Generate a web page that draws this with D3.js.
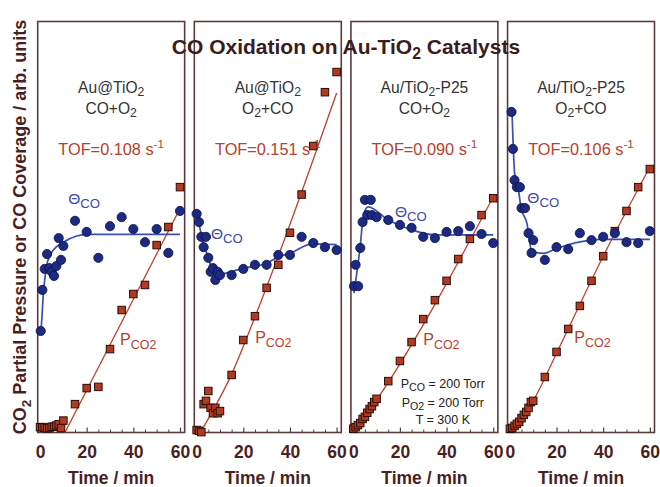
<!DOCTYPE html>
<html><head><meta charset="utf-8">
<script src="https://cdn.jsdelivr.net/npm/d3@7"></script>
<style>
html,body{margin:0;padding:0;background:#fff;}
svg{display:block;font-family:"Liberation Sans",Arial,Helvetica,sans-serif;}
</style></head>
<body>
<svg id="chart" width="660" height="487"></svg>
<script>
// ---------------- DATA ----------------
const catalysts = ["Au@TiO_{2}", "Au@TiO_{2}", "Au/TiO_{2}-P25", "Au/TiO_{2}-P25"];
const feeds = ["CO+O_{2}", "O_{2}+CO", "CO+O_{2}", "O_{2}+CO"];
const tofs = ["0.108", "0.151", "0.090", "0.106"];
const xTicks = [0, 20, 40, 60];
const xMinor = [5, 10, 15, 25, 30, 35, 45, 50, 55];

// CO coverage (theta_CO) points, [time min, arb. units]
const theta1 = [[0.3,24.7],[1,34.7],[2,39.8],[3,43.4],[4,40.0],[5,39.1],[6,38.1],[7,40.5],[8,47.3],[9,42.0],[10,45.4],[15,51.5],[20,48.8],[25,42.5],[30,50.2],[35,52.4],[40,49.5],[45,46.3],[50,49.5],[55,43.7],[60,53.9]];
const theta2 = [[0,53.2],[1,51.2],[2,47.6],[3,45.1],[4,47.6],[5,42.5],[6,39.1],[7,40.0],[8,37.1],[9,39.1],[10,38.3],[15,38.3],[20,39.8],[25,40.8],[30,40.8],[35,43.2],[40,43.2],[45,47.6],[50,46.1],[55,45.1],[60,44.4]];
const theta3 = [[0.3,35.6],[1,40.8],[2.1,35.6],[3,44.9],[4,51.2],[5,56.6],[6,52.9],[7.5,56.6],[8,52.9],[10,52.4],[15,51.7],[20,50.5],[25,49.8],[30,47.6],[35,47.3],[40,48.8],[45,49.0],[50,50.2],[55,48.3],[60,46.1]];
const theta4 = [[0.7,78.0],[1.3,69.0],[2,61.4],[3,59.7],[4.3,59.7],[5,54.6],[6.5,54.6],[8,48.5],[9.3,43.7],[10,46.8],[15,42.0],[20,45.1],[25,44.6],[30,48.5],[35,46.8],[40,47.6],[45,48.5],[50,46.3],[55,46.1],[60,49.0]];

// theta_CO fitted curves
const thetaFit1 = [[0.4,24.7],[0.8,27.9],[1.4,33.5],[2,37.1],[2.9,40.8],[4,42.7],[5.7,44.4],[10,46.3],[15.7,47.8],[20,48.2],[60,48.2]];
const thetaFit2 = [[0.3,53.2],[2.2,47.6],[3.2,45.6],[4.9,42.7],[6.5,40.0],[7.5,39.3],[10,38.3],[11,38.5],[20.4,40.0],[29.8,41.1],[35.4,42.8],[40,43.6],[49.6,45.9],[60,45.7]];
const thetaFit3 = [[0.3,33.9],[1.1,37.1],[2.0,40.8],[2.9,44.9],[4.0,51.2],[5.2,54.2],[6.4,54.9],[15,51.7],[25,49.3],[35,48.1],[60,48.1]];
const thetaFit4 = [[0.9,78.0],[1.5,68.7],[2.3,61.4],[3.7,59.0],[4.7,54.9],[7.3,50.9],[9.4,44.0],[14.4,43.6],[20.1,44.8],[30.1,46.4],[38.7,47.0],[60,47.0]];

// CO2 partial pressure points
const pco2_1 = [[0,1.3],[1,1.3],[2,1.2],[3,1.0],[4,1.1],[5,1.4],[6,1.4],[7,1.7],[8,2.0],[9,1.1],[10,2.9],[15,6.9],[20,10.8],[25,11.1],[30,20.3],[35,29.8],[40,33.7],[45,35.9],[50,45.6],[55,50.0],[60,59.7]];
const pco2_2 = [[0,0.6],[1,0.4],[2,0.1],[3,6.9],[4,7.7],[5,10.1],[6,6.0],[7,4.7],[8,6.0],[9,4.7],[10,5.2],[15,14.0],[20,22.5],[25,28.3],[30,35.2],[35,40.8],[40,48.6],[45,57.9],[50,69.7],[55,82.8],[60,87.7]];
const pco2_3 = [[0,0.9],[1,1.3],[2,1.8],[3,2.3],[4,3.3],[5,3.8],[6,4.8],[7,5.7],[8,6.4],[9,7.4],[10,8.2],[15,12.5],[20,17.4],[25,22.0],[30,27.6],[35,32.2],[40,36.9],[45,42.2],[50,47.1],[55,52.9],[60,57.0]];
const pco2_4 = [[0,0.9],[1,1.1],[2,1.6],[3,2.1],[4,2.6],[5,3.5],[6,4.3],[7,5.0],[8,6.0],[9,7.4],[10,7.7],[15,13.5],[20,19.6],[25,25.2],[30,30.8],[35,36.9],[40,42.9],[45,49.0],[50,53.9],[55,59.7],[60,64.1]];

// CO2 fitted lines
const pco2Fit1 = [[10.7,0],[60,54.5]];
const pco2Fit2 = [[2,0.4],[15,14.2],[25,28.1],[37,46.0],[60,82.6]];
const pco2Fit3 = [[0,0.4],[5,3.8],[10,7.9],[60,57.3]];
const pco2Fit4 = [[0,0.4],[5,3.3],[10,7.7],[20,19.3],[40,42.9],[60,64.6]];

const thetaPts = [theta1, theta2, theta3, theta4];
const thetaFits = [thetaFit1, thetaFit2, thetaFit3, thetaFit4];
const pco2Pts = [pco2_1, pco2_2, pco2_3, pco2_4];
const pco2Fits = [pco2Fit1, pco2Fit2, pco2Fit3, pco2Fit4];

// label anchors (data coordinates)
const thetaLabelPos = [[12.1,55.5],[6.1,47.0],[17.9,52.5],[7.5,55.8]];
const pLabelPos = [[34.3,21.3],[25.1,21.7],[30.0,21.3],[27.6,21.8]];
const conditions = ["P_{CO} = 200 Torr", "P_{O2} = 200 Torr", "T = 300 K"];

// ---------------- LAYOUT ----------------
const svg = d3.select("#chart");
const frameTop = 21.5, frameBottom = 432.5;
const frameColor = "#5a3c3c", labelColor = "#4a1f1f";
const blue = "#1c2a84", blueLine = "#3d4fb0", blueText = "#3a48aa";
const red = "#b03a22", redLine = "#c0412f", redText = "#b8402e";

const panelBand = d3.scaleBand().domain(d3.range(4)).range([37.7, 654.5]).paddingInner(0.0617);
const y = d3.scaleLinear().domain([0, 100]).range([frameBottom, frameTop]);

function rich(sel, str, fs, subScale, subShift) {
  subScale = subScale || 0.78;
  subShift = subShift || 0.25;
  const parts = str.split(/(_\{[^}]*\}|\^\{[^}]*\})/).filter(s => s.length);
  let shift = 0;
  parts.forEach(p => {
    let target = 0, content = p, size = fs;
    if (p.startsWith("_{")) { target = subShift * fs; content = p.slice(2, -1); size = fs * subScale; }
    else if (p.startsWith("^{")) { target = -0.42 * fs; content = p.slice(2, -1); size = fs * 0.72; }
    sel.append("tspan").attr("dy", target - shift).attr("font-size", size).text(content);
    shift = target;
  });
}

d3.range(4).forEach(i => {
  const L = panelBand(i), bw = panelBand.bandwidth();
  const x = d3.scaleLinear().domain([-1, 62]).range([L, L + bw]);
  const g = svg.append("g");

  g.append("rect").attr("x", L).attr("y", frameTop).attr("width", bw)
    .attr("height", frameBottom - frameTop).attr("fill", "none")
    .attr("stroke", frameColor).attr("stroke-width", 1.6);

  // axes
  const ax = g.append("g").attr("transform", `translate(0,${frameBottom})`)
    .call(d3.axisBottom(x).tickValues(xTicks).tickSize(-5).tickPadding(13).tickFormat(d3.format("d")));
  ax.select(".domain").remove();
  ax.selectAll(".tick line").attr("stroke", frameColor).attr("stroke-width", 1.2);
  ax.selectAll(".tick text").attr("fill", labelColor).attr("font-size", 17.5)
    .attr("font-weight", "bold").attr("font-family", "Liberation Sans, Arial, sans-serif");
  const axm = g.append("g").attr("transform", `translate(0,${frameBottom})`)
    .call(d3.axisBottom(x).tickValues(xMinor).tickSize(-3).tickFormat(""));
  axm.select(".domain").remove();
  axm.selectAll(".tick line").attr("stroke", frameColor).attr("stroke-width", 1);

  g.append("text").attr("x", L + bw / 2).attr("y", 484).attr("text-anchor", "middle")
    .attr("font-weight", "bold").attr("font-size", 17.5).attr("fill", labelColor).text("Time / min");

  // lines
  const line = d3.line().x(d => x(d[0])).y(d => y(d[1])).curve(d3.curveMonotoneX);
  g.append("path").datum(pco2Fits[i]).attr("d", line).attr("fill", "none")
    .attr("stroke", redLine).attr("stroke-width", 1.3);
  g.append("path").datum(thetaFits[i]).attr("d", line).attr("fill", "none")
    .attr("stroke", blueLine).attr("stroke-width", 1.7);

  // points
  const s = 7.5;
  g.selectAll("rect.sq").data(pco2Pts[i]).enter().append("rect").attr("class", "sq")
    .attr("x", d => x(d[0]) - s / 2).attr("y", d => y(d[1]) - s / 2)
    .attr("width", s).attr("height", s).attr("fill", red)
    .attr("stroke", "#2b0d08").attr("stroke-width", 1);
  g.selectAll("circle.pt").data(thetaPts[i]).enter().append("circle").attr("class", "pt")
    .attr("cx", d => x(d[0])).attr("cy", d => y(d[1])).attr("r", 4.6)
    .attr("fill", blue).attr("stroke", "#0b123f").attr("stroke-width", 0.8);

  // texts
  const cx = L + bw / 2;
  const t1 = g.append("text").attr("x", cx).attr("y", 93).attr("text-anchor", "middle")
    .attr("font-size", 15.6).attr("fill", "#333");
  rich(t1, catalysts[i], 15.6, 0.78, 0.2);
  const t2 = g.append("text").attr("x", cx).attr("y", 114).attr("text-anchor", "middle")
    .attr("font-size", 15.6).attr("fill", "#333");
  rich(t2, feeds[i], 15.6, 0.78, 0.2);
  const t3 = g.append("text").attr("x", cx).attr("y", 154.5).attr("text-anchor", "middle")
    .attr("font-size", 16.3).attr("fill", redText);
  rich(t3, "TOF=" + tofs[i] + " s^{-1}", 16.3);

  const th = g.append("text").attr("x", x(thetaLabelPos[i][0])).attr("y", y(thetaLabelPos[i][1]))
    .attr("font-size", 15.5).attr("fill", blueText);
  rich(th, "Θ_{CO}", 15.5, 0.85);
  const pl = g.append("text").attr("x", x(pLabelPos[i][0])).attr("y", y(pLabelPos[i][1]))
    .attr("font-size", 16).attr("fill", redText);
  rich(pl, "P_{CO2}", 16, 0.78);

  if (i === 2) {
    const condV = [10.8, 6.2, 2.1];
    conditions.forEach((c, k) => {
      const ct = g.append("text").attr("x", x(38.4)).attr("y", y(condV[k]))
        .attr("text-anchor", "middle").attr("font-size", 12.5).attr("fill", "#222");
      rich(ct, c, 12.5, 0.85);
    });
  }
});

// title
const title = svg.append("text").attr("x", 346).attr("y", 54).attr("text-anchor", "middle")
  .attr("font-weight", "bold").attr("font-size", 21).attr("fill", "#3a1c1c");
rich(title, "CO Oxidation on Au-TiO_{2} Catalysts", 21, 0.75);

// y label
const yl = svg.append("text").attr("transform", "translate(26,227) rotate(-90)")
  .attr("text-anchor", "middle").attr("font-weight", "bold").attr("font-size", 18).attr("fill", labelColor);
rich(yl, "CO_{2} Partial Pressure or CO Coverage / arb. units", 18, 0.75);
</script>
</body></html>
